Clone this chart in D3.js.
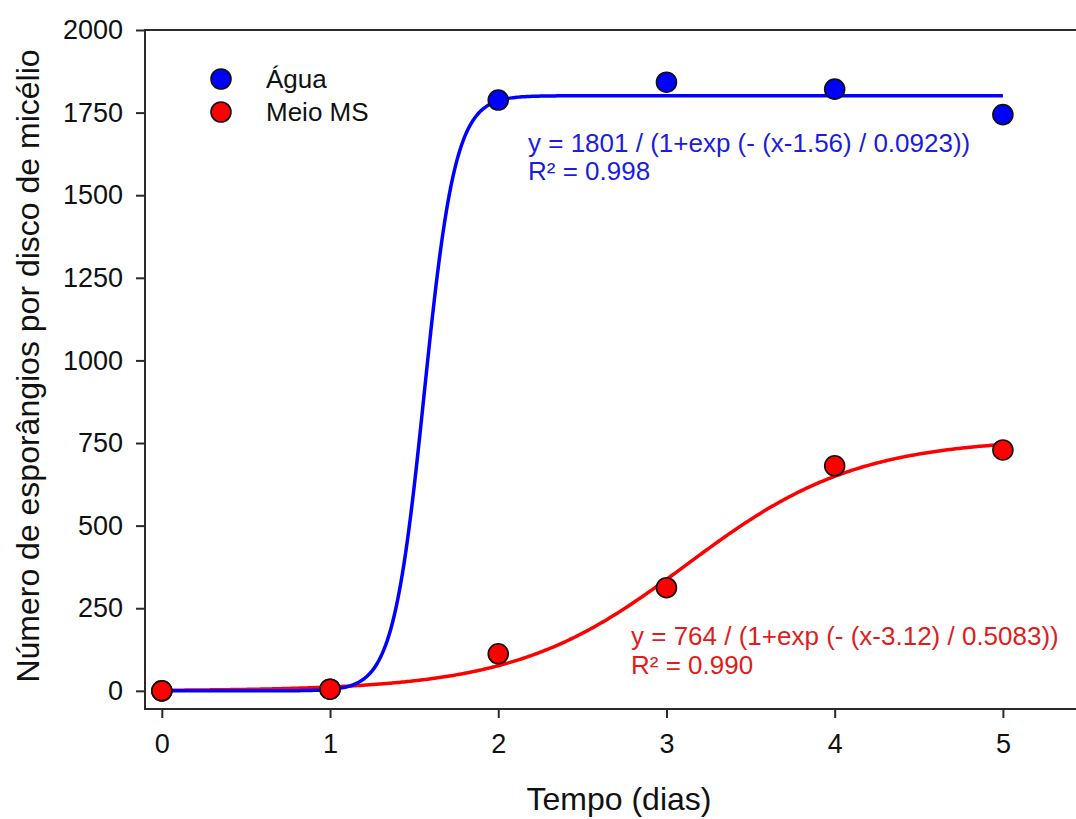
<!DOCTYPE html>
<html>
<head>
<meta charset="utf-8">
<script src="https://cdn.jsdelivr.net/npm/d3@7"></script>
<style>
  html, body { margin: 0; padding: 0; background: #fff; }
  svg { display: block; }
  text { font-family: "Liberation Sans", Arial, sans-serif; }
</style>
</head>
<body>
<svg id="chart" width="1076" height="819"></svg>
<script>
// ---- data ----
const days = [0, 1, 2, 3, 4, 5];
const aguaValues = [0, 5, 1788, 1842, 1821, 1744];
const meioValues = [0, 5, 112, 312, 681, 729];
const seriesNames = ["Água", "Meio MS"];
const xTicks = [0, 1, 2, 3, 4, 5];
const yTicks = [0, 250, 500, 750, 1000, 1250, 1500, 1750, 2000];
// fitted sigmoid parameters [a, x0, b] as printed on the chart
const aguaFit = [1801, 1.56, 0.0923];
const meioFit = [764, 3.12, 0.5083];
const aguaLabel = ["y = 1801 / (1+exp (- (x-1.56) / 0.0923))", "R² = 0.998"];
const meioLabel = ["y = 764 / (1+exp (- (x-3.12) / 0.5083))", "R² = 0.990"];

const svg = d3.select("#chart");
const x = d3.scaleLinear().domain([-0.1, 5.5]).range([145, 1087]);
const y = d3.scaleLinear().domain([-55, 2000]).range([709, 30]);

const axisColor = "#2a2a2a";
const blue = "#0000ff", red = "#ff0000";
const blueText = "#1c1ce0", redText = "#e21b1b";

// frame
svg.append("rect")
  .attr("x", x(-0.1)).attr("y", y(2000))
  .attr("width", x(5.5) - x(-0.1)).attr("height", y(-55) - y(2000))
  .attr("fill", "none").attr("stroke", axisColor).attr("stroke-width", 2);

// axes
const yAxis = d3.axisLeft(y).tickValues(yTicks).tickSize(9).tickPadding(13).tickFormat(d3.format("d"));
const gy = svg.append("g").attr("transform", `translate(${x(-0.1)},0)`).call(yAxis);
gy.select(".domain").remove();
gy.selectAll("line").attr("stroke", axisColor).attr("stroke-width", 2);
gy.selectAll("text").attr("font-size", 27).attr("fill", "#111");

const xAxis = d3.axisBottom(x).tickValues(xTicks).tickSize(9).tickPadding(16).tickFormat(d3.format("d"));
const gx = svg.append("g").attr("transform", `translate(0,${y(-55)})`).call(xAxis);
gx.select(".domain").remove();
gx.selectAll("line").attr("stroke", axisColor).attr("stroke-width", 2);
gx.selectAll("text").attr("font-size", 27).attr("fill", "#111");

// axis titles
svg.append("text")
  .attr("transform", `translate(39,366) rotate(-90)`)
  .attr("text-anchor", "middle").attr("font-size", 32).attr("fill", "#111")
  .text("Número de esporângios por disco de micélio");
svg.append("text")
  .attr("x", 619).attr("y", 810)
  .attr("text-anchor", "middle").attr("font-size", 32).attr("fill", "#111")
  .text("Tempo (dias)");

// fitted curves
function sigmoid(p) { return t => p[0] / (1 + Math.exp(-(t - p[1]) / p[2])); }
const xs = d3.range(0, 5.0001, 0.01);
const line = d3.line().x(d => x(d[0])).y(d => y(d[1]));
const fa = sigmoid(meioFit), fb = sigmoid(aguaFit);
svg.append("path").datum(xs.map(t => [t, fa(t)]))
  .attr("d", line).attr("fill", "none").attr("stroke", red).attr("stroke-width", 3.5);
svg.append("path").datum(xs.map(t => [t, fb(t)]))
  .attr("d", line).attr("fill", "none").attr("stroke", blue).attr("stroke-width", 3.5);

// points
const r = 10;
svg.append("g").selectAll("circle").data(days.map((d, i) => [d, aguaValues[i]]))
  .join("circle").attr("cx", d => x(d[0])).attr("cy", d => y(d[1])).attr("r", r)
  .attr("fill", blue).attr("stroke", "#111").attr("stroke-width", 1.6);
svg.append("g").selectAll("circle").data(days.map((d, i) => [d, meioValues[i]]))
  .join("circle").attr("cx", d => x(d[0])).attr("cy", d => y(d[1])).attr("r", r)
  .attr("fill", red).attr("stroke", "#111").attr("stroke-width", 1.6);

// legend
const legendColors = [blue, red];
const lg = svg.append("g");
seriesNames.forEach((name, i) => {
  const cy = 79 + i * 33;
  lg.append("circle").attr("cx", 221).attr("cy", cy).attr("r", r)
    .attr("fill", legendColors[i]).attr("stroke", "#111").attr("stroke-width", 1.6);
  lg.append("text").attr("x", 266).attr("y", cy + 9).attr("font-size", 26).attr("fill", "#111").text(name);
});

// equations
aguaLabel.forEach((t, i) => {
  svg.append("text").attr("x", 528).attr("y", 152 + i * 28).attr("font-size", 26)
    .attr("fill", blueText).text(t);
});
meioLabel.forEach((t, i) => {
  svg.append("text").attr("x", 631).attr("y", 645 + i * 29).attr("font-size", 26)
    .attr("fill", redText).text(t);
});
</script>
</body>
</html>
